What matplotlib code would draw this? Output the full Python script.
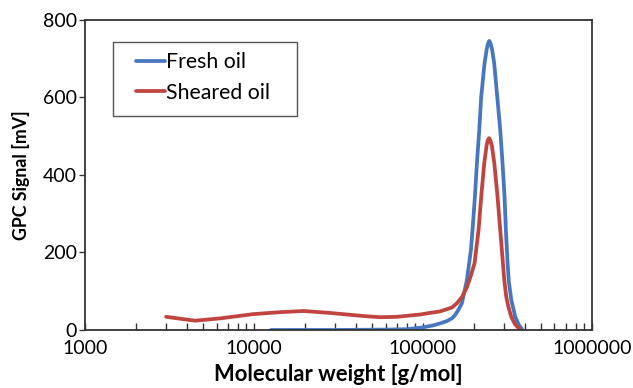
import numpy as np
import matplotlib
matplotlib.use("Agg")
import matplotlib.pyplot as plt
from matplotlib.patches import Rectangle
from matplotlib.ticker import FixedLocator, FuncFormatter, LogLocator, NullFormatter

plt.rcParams['font.family'] = ['Lato', 'DejaVu Sans']

# data (molecular weight in g/mol, signal in mV)
fresh_mw = [12600, 30000, 60000, 80300, 100700, 115000, 126400, 138500, 148300,
            155100, 162000, 169900, 175000, 181900, 192100, 196400, 202900, 208500,
            215200, 221100, 231300, 237700, 242000, 246600, 251000, 256800, 263900,
            275000, 286500, 295600, 303800, 310000, 316000, 322000, 333000, 351500,
            370000, 385100]
fresh_sig = [0, 0, 1, 2, 7, 12, 17, 23, 30,
             39, 52, 69, 95, 129, 206, 258, 344, 430,
             516, 602, 688, 722, 738, 746, 740, 722, 688,
             602, 516, 430, 344, 250, 180, 125, 78, 34,
             12, 3]

sheared_mw = [3018, 4480, 6300, 9920, 14270, 19610, 28220, 44440, 55800, 70070,
              96250, 106000, 126400, 148300, 158750, 170000, 181800, 192000, 201800,
              213200, 221100, 230300, 237700, 242000, 246000, 250000, 255800, 264300,
              276100, 286500, 297200, 302600, 310900, 320000, 332900, 350000, 367700,
              376300]
sheared_sig = [34, 24, 30, 41, 46, 49, 44, 36, 33, 34,
               40, 43, 48, 58, 69, 85, 110, 140, 172,
               258, 344, 430, 475, 490, 495, 490, 475, 430,
               344, 258, 172, 129, 86, 60, 34, 15, 5,
               1]

x_ticks = [1000, 10000, 100000, 1000000]
y_ticks = [0, 200, 400, 600, 800]

blue = '#4677C0'
red = '#C0443F'
axis_col = '#333333'

fig = plt.figure(figsize=(6.33, 3.88), dpi=100)
ax = fig.add_axes([0.1343, 0.1495, 0.8009, 0.799])

l1, = ax.plot(fresh_mw, fresh_sig, color=blue, lw=2.7, label='Fresh oil',
              solid_capstyle='round', solid_joinstyle='round')
l2, = ax.plot(sheared_mw, sheared_sig, color=red, lw=2.7, label='Sheared oil',
              solid_capstyle='round', solid_joinstyle='round')

ax.set_xscale('log')
ax.set_xlim(1000, 1000000)
ax.set_ylim(0, 800)

ax.xaxis.set_major_locator(FixedLocator(x_ticks))
ax.xaxis.set_major_formatter(FuncFormatter(lambda v, p: f'{int(round(v))}'))
ax.xaxis.set_minor_locator(LogLocator(base=10, subs=np.arange(2, 10)))
ax.xaxis.set_minor_formatter(NullFormatter())
ax.yaxis.set_major_locator(FixedLocator(y_ticks))

ax.tick_params(axis='x', which='both', direction='in', length=5, width=1, color=axis_col,
               labelsize=14, pad=7)
ax.tick_params(axis='y', which='major', direction='out', length=4, width=1, color=axis_col,
               labelsize=14, pad=2)
ax.tick_params(axis='y', which='minor', left=False)

for s in ax.spines.values():
    s.set_color(axis_col)
    s.set_linewidth(1.3)

ax.set_xlabel('Molecular weight [g/mol]', fontsize=15.8, fontweight='bold', labelpad=5)
ax.set_ylabel('GPC Signal [mV]', fontsize=12.8, fontweight='bold', labelpad=9)

# legend box drawn separately so the padding matches the reference
fig.patches.append(Rectangle((113 / 633, 1 - 116 / 388), 184 / 633, 74 / 388,
                             transform=fig.transFigure, fill=False,
                             edgecolor='#555555', lw=1.0))
leg = fig.legend(handles=[l1, l2], loc='upper left',
                 bbox_to_anchor=(136 / 633, 1 - 52 / 388), fontsize=15.3,
                 frameon=False, handlelength=1.35, handletextpad=0.05,
                 borderpad=0, labelspacing=0.5, borderaxespad=0)
for h in leg.legend_handles:
    h.set_linewidth(2.7)

fig.savefig('out.png', dpi=100)
